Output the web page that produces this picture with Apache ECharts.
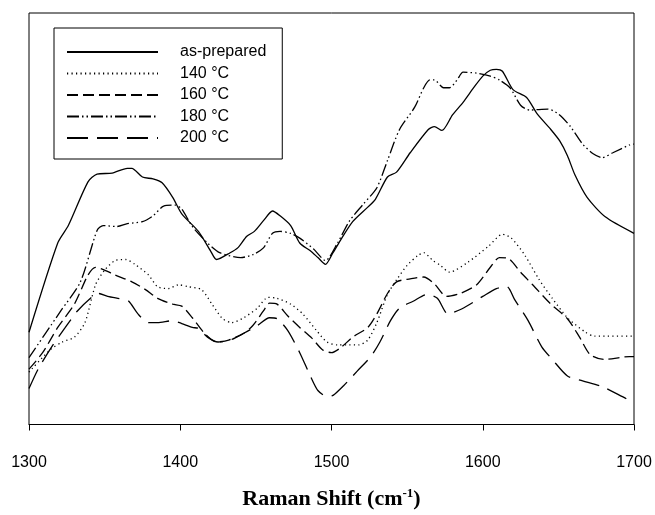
<!DOCTYPE html>
<html>
<head>
<meta charset="utf-8">
<script src="https://cdn.jsdelivr.net/npm/echarts@6/dist/echarts.min.js"></script>
<style>
  html, body { margin: 0; padding: 0; background: #fff; }
  #main { width: 655px; height: 515px; }
</style>
</head>
<body>
<div id="main"></div>
<script>
// Raman spectra, intensity in arbitrary units
const seriesNames = ['as-prepared', '140 °C', '160 °C', '180 °C', '200 °C'];
const xTicks = [1300, 1400, 1500, 1600, 1700];

const asPrepared = [
  [1300, 95], [1319, 187], [1326, 205], [1339, 250], [1345, 258], [1355, 259],
  [1365, 264], [1368, 264], [1375, 255], [1382, 253], [1388, 249], [1395, 234],
  [1401, 217], [1412, 199], [1420, 179], [1424, 170], [1433, 177], [1438, 182],
  [1444, 194], [1449, 199], [1455, 210], [1461, 220], [1466, 215], [1473, 205],
  [1479, 187], [1486, 179], [1491, 172], [1496, 165], [1501, 177], [1506, 190],
  [1514, 209], [1524, 224], [1529, 232], [1537, 255], [1543, 260], [1552, 280],
  [1564, 304], [1568, 307], [1573, 303], [1580, 319], [1587, 332], [1594, 347],
  [1600, 359], [1605, 365], [1609, 366], [1613, 364], [1620, 345], [1629, 337],
  [1636, 320], [1645, 304], [1651, 292], [1656, 277], [1661, 257], [1669, 234],
  [1681, 214], [1700, 197]
];

const t140 = [
  [1300, 54], [1314, 77], [1322, 85], [1330, 90], [1337, 105], [1344, 144],
  [1350, 159], [1357, 169], [1364, 170], [1370, 165], [1379, 154], [1385, 142],
  [1392, 140], [1399, 144], [1405, 142], [1414, 139], [1421, 124], [1428, 109],
  [1434, 105], [1442, 110], [1451, 120], [1458, 131], [1464, 130], [1473, 124],
  [1481, 114], [1490, 97], [1497, 85], [1504, 82], [1510, 82], [1518, 82],
  [1524, 87], [1530, 105], [1537, 134], [1543, 149], [1550, 164], [1557, 174],
  [1561, 177], [1567, 169], [1572, 164], [1578, 157], [1590, 167], [1604, 184],
  [1613, 196], [1619, 192], [1628, 174], [1637, 150], [1646, 130], [1656, 110],
  [1668, 95], [1674, 91], [1700, 91]
];

const t160 = [
  [1300, 57], [1309, 74], [1319, 100], [1330, 124], [1339, 154], [1344, 162],
  [1350, 159], [1357, 154], [1368, 147], [1377, 139], [1385, 130], [1395, 124],
  [1401, 122], [1408, 110], [1416, 94], [1424, 85], [1432, 87], [1442, 94],
  [1448, 102], [1455, 117], [1459, 125], [1464, 124], [1471, 112], [1479, 100],
  [1487, 89], [1494, 77], [1500, 74], [1506, 79], [1514, 90], [1524, 100],
  [1530, 114], [1537, 135], [1543, 147], [1552, 150], [1561, 152], [1568, 145],
  [1576, 132], [1585, 135], [1596, 144], [1605, 162], [1611, 172], [1617, 171],
  [1625, 157], [1633, 144], [1645, 124], [1656, 109], [1664, 90], [1671, 72],
  [1680, 67], [1697, 70], [1700, 70]
];

const t180 = [
  [1300, 69], [1321, 117], [1334, 147], [1345, 200], [1349, 205], [1358, 204],
  [1365, 207], [1375, 209], [1382, 215], [1389, 225], [1397, 226], [1401, 222],
  [1408, 204], [1418, 187], [1426, 177], [1440, 172], [1448, 175], [1455, 182],
  [1461, 197], [1466, 199], [1473, 197], [1479, 192], [1488, 181], [1496, 169],
  [1504, 187], [1512, 210], [1521, 227], [1530, 244], [1537, 272], [1545, 304],
  [1555, 327], [1561, 347], [1565, 355], [1568, 355], [1574, 347], [1578, 347],
  [1583, 355], [1587, 363], [1596, 362], [1605, 359], [1611, 355], [1618, 347],
  [1625, 329], [1631, 324], [1643, 325], [1650, 320], [1658, 307], [1666, 289],
  [1673, 279], [1679, 275], [1686, 280], [1697, 288], [1700, 289]
];

const t200 = [
  [1300, 37], [1306, 57], [1315, 80], [1324, 100], [1332, 117], [1342, 132],
  [1346, 135], [1352, 132], [1362, 129], [1366, 127], [1372, 114], [1379, 105],
  [1385, 105], [1395, 107], [1401, 104], [1408, 100], [1412, 99], [1418, 90],
  [1425, 85], [1433, 87], [1442, 94], [1451, 102], [1459, 110], [1464, 109],
  [1471, 97], [1479, 74], [1486, 50], [1491, 35], [1497, 29], [1501, 30],
  [1508, 40], [1517, 55], [1526, 70], [1532, 85], [1539, 107], [1545, 120],
  [1554, 127], [1563, 134], [1570, 130], [1577, 114], [1586, 119], [1600, 132],
  [1609, 140], [1616, 142], [1621, 129], [1630, 107], [1639, 80], [1646, 67],
  [1656, 50], [1666, 45], [1679, 39], [1697, 25], [1700, 24]
];

const seriesData = [asPrepared, t140, t160, t180, t200];
const dashTypes = ['solid', [1.2, 3.3], [11, 5], [12, 3, 1.5, 3, 1.5, 3], [21, 9]];

const chart = echarts.init(document.getElementById('main'), null, { renderer: 'canvas' });

const option = {
  animation: false,
  backgroundColor: '#fff',
  grid: {
    left: 29, right: 21, top: 13, bottom: 77,
    show: true, borderColor: '#000', borderWidth: 1
  },
  legend: {
    orient: 'vertical',
    left: 54, top: 28,
    padding: [16, 16, 13, 12],
    borderColor: '#000', borderWidth: 1,
    itemWidth: 91, itemHeight: 14, itemGap: 5.5,
    itemStyle: { opacity: 0, borderWidth: 0 },
    textStyle: { fontFamily: 'Liberation Sans, Arial', fontSize: 16, color: '#000', padding: [0, 0, 0, 17] },
    data: seriesNames
  },
  xAxis: {
    type: 'value',
    min: 1300, max: 1700, interval: 100,
    axisLine: { show: true, onZero: false, lineStyle: { color: '#000', width: 1 } },
    axisTick: { show: true, length: 6, lineStyle: { color: '#000' } },
    axisLabel: {
      margin: 30, color: '#000', fontSize: 16, fontFamily: 'Liberation Sans, Arial',
      formatter: v => (xTicks.includes(v) ? String(v) : '')
    },
    splitLine: { show: false },
    name: 'Raman Shift (cm{sup|-1})',
    nameLocation: 'middle',
    nameGap: 63,
    nameTextStyle: {
      fontFamily: 'Liberation Serif, Times New Roman', fontWeight: 'bold', fontSize: 22, color: '#000',
      rich: {
        sup: { fontFamily: 'Liberation Serif', fontWeight: 'bold', fontSize: 13, verticalAlign: 'top', padding: [0, 0, 10, 0], color: '#000' }
      }
    }
  },
  yAxis: {
    type: 'value',
    min: 0, max: 424,
    axisLine: { show: false },
    axisTick: { show: false },
    axisLabel: { show: false },
    splitLine: { show: false }
  },
  series: seriesNames.map((name, i) => ({
    name,
    type: 'line',
    data: seriesData[i],
    symbol: 'none',
    smooth: 0.25,
    lineStyle: { color: '#000', width: 1.3, type: dashTypes[i] },
    itemStyle: { color: '#000' }
  }))
};

chart.setOption(option);
</script>
</body>
</html>
